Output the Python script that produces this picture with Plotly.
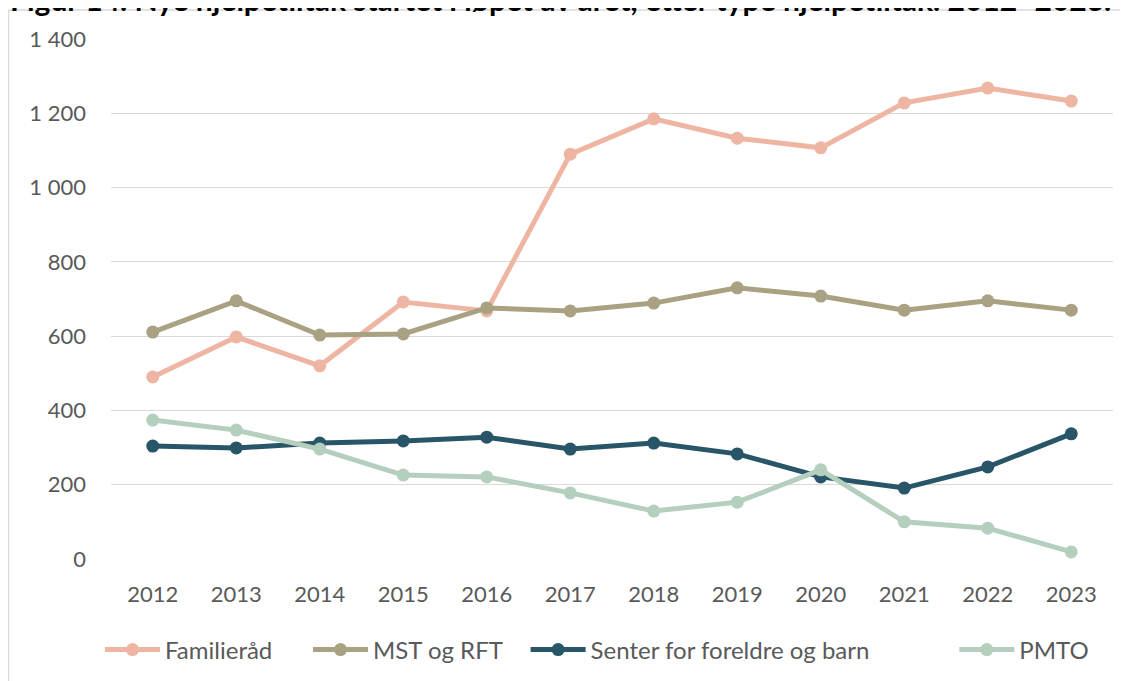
import plotly.graph_objects as go

years = [str(y) for y in range(2012, 2024)]

familierad = [490, 598, 520, 692, 668, 1090, 1185, 1133, 1107, 1228, 1268, 1233]
mst_rft = [611, 695, 603, 606, 676, 668, 689, 730, 708, 670, 695, 670]
senter = [304, 299, 312, 318, 328, 296, 312, 283, 221, 191, 248, 337]
pmto = [374, 347, 296, 226, 221, 178, 129, 153, 240, 100, 83, 19]

series = [
    ('Familieråd', familierad, '#EFB5A3', 5),
    ('MST og RFT', mst_rft, '#A8A283', 3),
    ('Senter for foreldre og barn', senter, '#285567', 13),
    ('PMTO', pmto, '#B5CFBF', 0),
]

W, H = 1128, 681
OFF = 8  # page body margin shifts the figure by this much on screen
# plot area in screen pixels: x 111..1113, y 39..559
L, T = 111 - OFF, 39 - OFF
R, B = W - (1113 - OFF), H - (559 - OFF)
pw, ph = W - L - R, H - T - B


def px_x(p):
    return (p - OFF - L) / pw


def px_y(p):
    return (H - B - (p - OFF)) / ph


fig = go.Figure()
for name, vals, col, pad in series:
    fig.add_trace(go.Scatter(x=years, y=vals, name=name + '\u00a0' * pad, mode='lines+markers',
                             line=dict(color=col, width=5),
                             marker=dict(color=col, size=13)))

font = dict(family='Lato, Open Sans, sans-serif', size=22, color='#595959')

fig.update_layout(
    width=W, height=H,
    margin=dict(l=L, r=R, t=T, b=B),
    paper_bgcolor='white', plot_bgcolor='white',
    separators=', ',
    font=font,
    showlegend=True,
    legend=dict(orientation='h', x=px_x(100), xanchor='left',
                y=px_y(650), yanchor='middle',
                font=dict(family='Lato, Open Sans, sans-serif', size=24, color='#595959'),
                itemwidth=55, tracegroupgap=0),
)
fig.update_xaxes(range=[-0.5, 11.5], showgrid=False, showline=False, ticks='',
                 ticklabelstandoff=20, tickfont=font, automargin=False)
fig.update_yaxes(range=[0, 1400], dtick=200, tickformat=',d', showgrid=True,
                 gridcolor='#D9D9D9', gridwidth=1.3, zeroline=False, showline=False,
                 ticks='', ticklabelstandoff=24, tickfont=font, automargin=False)

# chart frame (left and top edges visible)
fig.add_shape(type='line', xref='paper', yref='paper',
              x0=px_x(8.5), x1=px_x(8.5), y0=px_y(10), y1=px_y(700),
              line=dict(color='#D9D9D9', width=1.5))
fig.add_shape(type='line', xref='paper', yref='paper',
              x0=px_x(8.5), x1=px_x(1140), y0=px_y(10), y1=px_y(10),
              line=dict(color='#D9D9D9', width=1.5))

# figure title, cropped at the top like in the source image
fig.add_annotation(text='<b>Figur 14. Nye hjelpetiltak startet i løpet av året, etter type hjelpetiltak. 2012–2023.</b>',
                   xref='paper', yref='paper', x=px_x(560), y=px_y(19),
                   xanchor='center', yanchor='bottom', showarrow=False,
                   font=dict(family='Lato, Open Sans, sans-serif', size=30, color='black'))

fig.write_html('out.html')
